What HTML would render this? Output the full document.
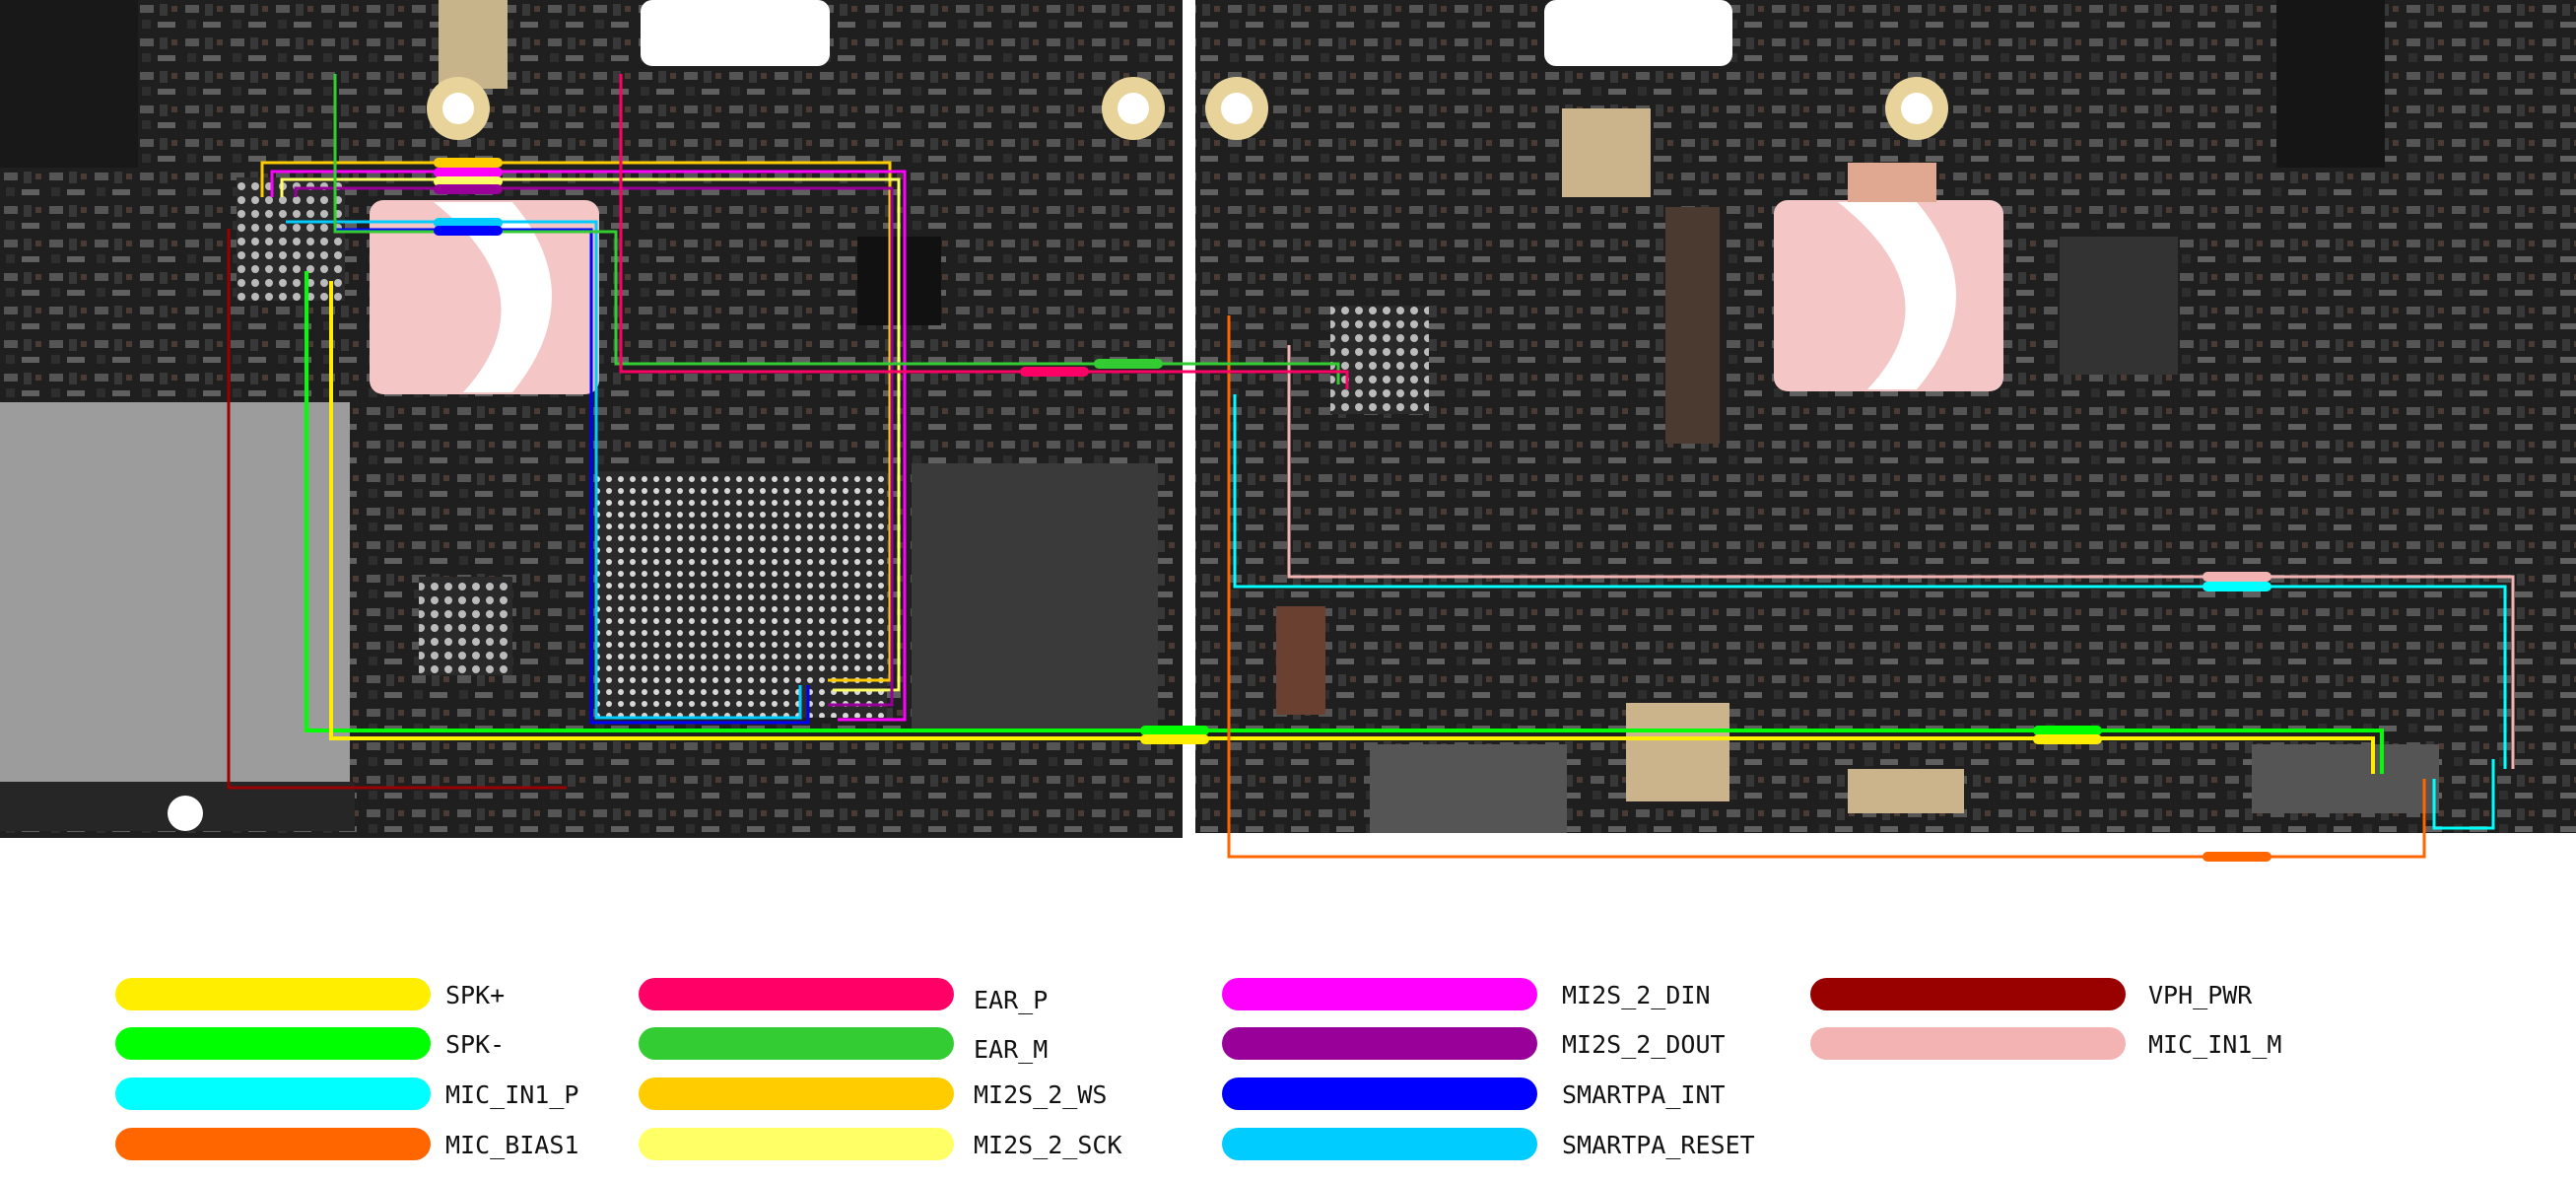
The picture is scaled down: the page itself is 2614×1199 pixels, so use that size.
<!DOCTYPE html>
<html><head><meta charset="utf-8"><style>
html,body{margin:0;padding:0;background:#fff;}
body{width:2614px;height:1199px;position:relative;overflow:hidden;font-family:"DejaVu Sans Mono","Liberation Mono",monospace;}
.lg{position:absolute;height:33px;width:320px;border-radius:17px;}
.lt{position:absolute;font-size:25px;color:#111;}
</style></head><body>
<svg width="2614" height="1199" style="position:absolute;left:0;top:0">
<defs>
<pattern id="cmp" width="46" height="34" patternUnits="userSpaceOnUse">
<rect width="46" height="34" fill="#1f1f1f"/>
<rect x="4" y="5" width="14" height="8" fill="#555"/>
<rect x="24" y="4" width="8" height="12" fill="#383838"/>
<rect x="6" y="20" width="9" height="9" fill="#2e2e2e"/>
<rect x="22" y="22" width="18" height="6" fill="#606060"/>
<rect x="36" y="6" width="6" height="6" fill="#4a3c34"/>
</pattern>
<pattern id="bga" width="12" height="12" patternUnits="userSpaceOnUse">
<rect width="12" height="12" fill="#2a2a2a"/><circle cx="6" cy="6" r="3" fill="#d8d8d8"/>
</pattern>
<pattern id="bga2" width="14" height="14" patternUnits="userSpaceOnUse">
<rect width="14" height="14" fill="#2a2a2a"/><circle cx="7" cy="7" r="4" fill="#bbb"/>
</pattern>
</defs>
<rect x="0" y="0" width="1200" height="850" fill="url(#cmp)"/>
<rect x="1213" y="0" width="1401" height="845" fill="url(#cmp)"/>
<rect x="650" y="0" width="192" height="67" rx="12" fill="#fff"/>
<rect x="1567" y="0" width="191" height="67" rx="12" fill="#fff"/>
<rect x="0" y="408" width="355" height="385" fill="#9c9c9c"/>
<rect x="0" y="793" width="360" height="50" fill="#262626"/>
<rect x="375" y="203" width="233" height="197" rx="14" fill="#f4c6c6"/>
<rect x="1800" y="203" width="233" height="194" rx="14" fill="#f4c6c6"/>
<path d="M440 205 Q560 300 470 398 L520 398 Q600 300 520 205Z" fill="#fff"/>
<path d="M1865 205 Q1985 300 1895 395 L1945 395 Q2025 300 1945 205Z" fill="#fff"/>
<rect x="605" y="478" width="295" height="250" fill="url(#bga)"/>
<rect x="925" y="470" width="250" height="270" fill="#3a3a3a"/>
<rect x="425" y="585" width="95" height="100" fill="url(#bga2)"/>
<rect x="1350" y="310" width="100" height="110" fill="url(#bga2)"/>
<rect x="240" y="180" width="110" height="125" fill="url(#bga2)"/>
<rect x="1690" y="210" width="55" height="240" fill="#4a3a30"/>
<rect x="870" y="240" width="85" height="90" fill="#111"/>
<rect x="2090" y="240" width="120" height="140" fill="#333"/>
<rect x="1650" y="713" width="105" height="100" fill="#cbb48c"/>
<rect x="1875" y="780" width="118" height="45" fill="#cbb48c"/>
<rect x="445" y="0" width="70" height="90" fill="#c8b48a"/>
<rect x="1585" y="110" width="90" height="90" fill="#cbb48c"/>
<rect x="1875" y="165" width="90" height="40" fill="#e0a890"/>
<rect x="1390" y="755" width="200" height="90" fill="#555"/>
<rect x="2285" y="755" width="190" height="70" fill="#555"/>
<rect x="1295" y="615" width="50" height="110" fill="#6a4030"/>
<circle cx="465" cy="110" r="32" fill="#e8d49a"/><circle cx="465" cy="110" r="16" fill="#fff"/>
<circle cx="1150" cy="110" r="32" fill="#e8d49a"/><circle cx="1150" cy="110" r="16" fill="#fff"/>
<circle cx="1255" cy="110" r="32" fill="#e8d49a"/><circle cx="1255" cy="110" r="16" fill="#fff"/>
<circle cx="1945" cy="110" r="32" fill="#e8d49a"/><circle cx="1945" cy="110" r="16" fill="#fff"/>
<circle cx="188" cy="825" r="18" fill="#fff"/>
<rect x="2310" y="0" width="110" height="170" fill="#151515"/>
<rect x="0" y="0" width="140" height="170" fill="#181818"/>
<g fill="none" stroke-width="3">
<polyline points="232,232 232,799 575,799" stroke="#990000"/>
<polyline points="311,275 311,741 2417,741 2417,785" stroke="#00ff00" stroke-width="4"/>
<polyline points="336,285 336,749 2408,749 2408,785" stroke="#ffee00" stroke-width="4"/>
<polyline points="1247,320 1247,869 2460,869 2460,790" stroke="#ff6600"/>
<polyline points="1308,350 1308,585 2550,585 2550,780" stroke="#f3b3b3"/>
<polyline points="1253,400 1253,595 2542,595 2542,780" stroke="#00ffff"/>
<polyline points="2470,790 2470,840 2530,840 2530,770" stroke="#00ffff"/>
<polyline points="340,233 600,233 600,733 820,733 820,695" stroke="#0000ff"/>
<polyline points="290,225 605,225 605,728 812,728 812,695" stroke="#00ccff"/>
<polyline points="266,200 266,165 903,165 903,690 840,690" stroke="#ffcc00"/>
<polyline points="276,200 276,174 918,174 918,730 850,730" stroke="#ff00ff"/>
<polyline points="286,200 286,182 912,182 912,700 845,700" stroke="#ffff66"/>
<polyline points="300,200 300,191 905,191 905,715 840,715" stroke="#990099"/>
<polyline points="340,75 340,235 625,235 625,369 1358,369 1358,390" stroke="#33cc33"/>
<polyline points="630,75 630,377 1367,377 1367,395" stroke="#ff0066"/>
</g>
<g>
<rect x="440" y="160" width="70" height="10" rx="5" fill="#ffcc00"/>
<rect x="440" y="170" width="70" height="10" rx="5" fill="#ff00ff"/>
<rect x="440" y="179" width="70" height="10" rx="5" fill="#ffff66"/>
<rect x="440" y="187" width="70" height="10" rx="5" fill="#990099"/>
<rect x="440" y="221" width="70" height="10" rx="5" fill="#00ccff"/>
<rect x="440" y="229" width="70" height="10" rx="5" fill="#0000ff"/>
<rect x="1157" y="736" width="70" height="10" rx="5" fill="#00ff00"/>
<rect x="1157" y="745" width="70" height="10" rx="5" fill="#ffee00"/>
<rect x="2063" y="736" width="70" height="10" rx="5" fill="#00ff00"/>
<rect x="2063" y="745" width="70" height="10" rx="5" fill="#ffee00"/>
<rect x="2235" y="580" width="70" height="10" rx="5" fill="#f3b3b3"/>
<rect x="2235" y="590" width="70" height="10" rx="5" fill="#00ffff"/>
<rect x="2235" y="864" width="70" height="10" rx="5" fill="#ff6600"/>
<rect x="1110" y="364" width="70" height="10" rx="5" fill="#33cc33"/>
<rect x="1035" y="372" width="70" height="10" rx="5" fill="#ff0066"/>
</g>
</svg>
<div class="lg" style="left:117px;top:992px;background:#ffee00"></div><div class="lt" style="left:452px;top:995px">SPK+</div>
<div class="lg" style="left:117px;top:1042px;background:#00ff00"></div><div class="lt" style="left:452px;top:1045px">SPK-</div>
<div class="lg" style="left:117px;top:1093px;background:#00ffff"></div><div class="lt" style="left:452px;top:1096px">MIC_IN1_P</div>
<div class="lg" style="left:117px;top:1144px;background:#ff6600"></div><div class="lt" style="left:452px;top:1147px">MIC_BIAS1</div>
<div class="lg" style="left:648px;top:992px;background:#ff0066"></div><div class="lt" style="left:988px;top:1000px">EAR_P</div>
<div class="lg" style="left:648px;top:1042px;background:#33cc33"></div><div class="lt" style="left:988px;top:1050px">EAR_M</div>
<div class="lg" style="left:648px;top:1093px;background:#ffcc00"></div><div class="lt" style="left:988px;top:1096px">MI2S_2_WS</div>
<div class="lg" style="left:648px;top:1144px;background:#ffff66"></div><div class="lt" style="left:988px;top:1147px">MI2S_2_SCK</div>
<div class="lg" style="left:1240px;top:992px;background:#ff00ff"></div><div class="lt" style="left:1585px;top:995px">MI2S_2_DIN</div>
<div class="lg" style="left:1240px;top:1042px;background:#990099"></div><div class="lt" style="left:1585px;top:1045px">MI2S_2_DOUT</div>
<div class="lg" style="left:1240px;top:1093px;background:#0000ff"></div><div class="lt" style="left:1585px;top:1096px">SMARTPA_INT</div>
<div class="lg" style="left:1240px;top:1144px;background:#00ccff"></div><div class="lt" style="left:1585px;top:1147px">SMARTPA_RESET</div>
<div class="lg" style="left:1837px;top:992px;background:#990000"></div><div class="lt" style="left:2180px;top:995px">VPH_PWR</div>
<div class="lg" style="left:1837px;top:1042px;background:#f3b3b3"></div><div class="lt" style="left:2180px;top:1045px">MIC_IN1_M</div>
</body></html>
